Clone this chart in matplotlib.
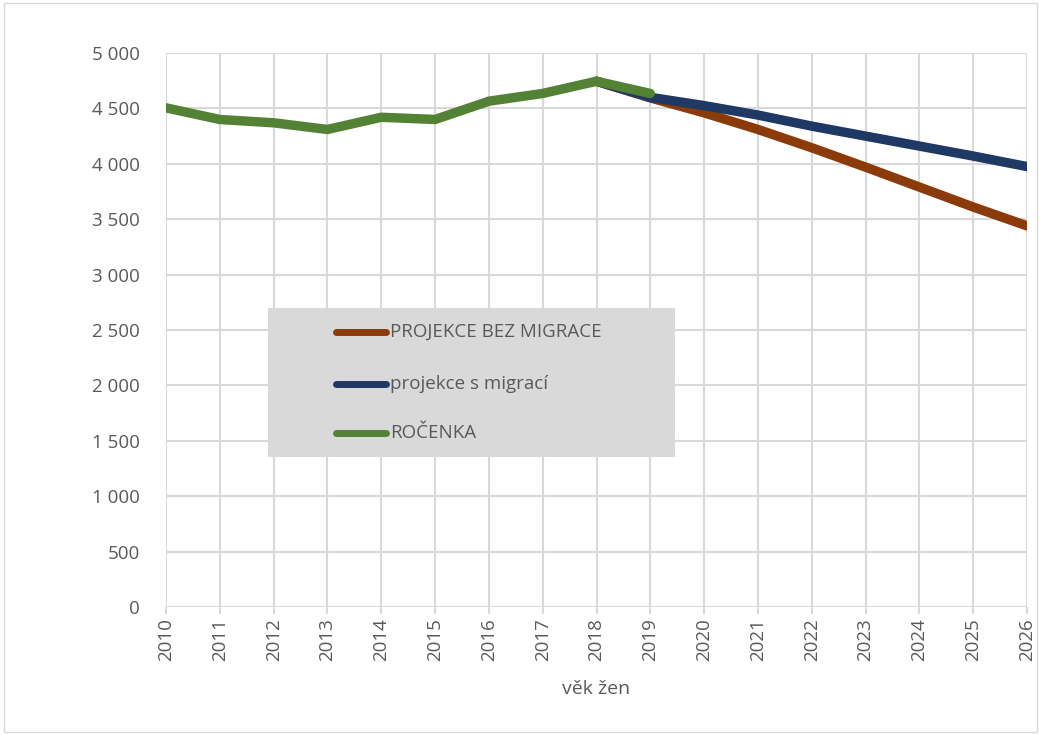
import matplotlib
matplotlib.use("Agg")
import matplotlib.pyplot as plt
from matplotlib.ticker import FuncFormatter
from matplotlib.patches import Rectangle
from matplotlib.lines import Line2D

years = list(range(2010, 2027))
rocenka_years = list(range(2010, 2020))
rocenka = [4505, 4400, 4370, 4310, 4420, 4400, 4565, 4635, 4745, 4635]
proj_years = list(range(2018, 2027))
bez_migrace = [4745, 4595, 4460, 4310, 4145, 3970, 3790, 3610, 3440]
s_migraci = [4745, 4600, 4525, 4440, 4340, 4250, 4160, 4070, 3975]
labels = ["PROJEKCE BEZ MIGRACE", "projekce s migrací", "ROČENKA"]
colors = ["#8B3A0A", "#1F3864", "#548235"]

W, H = 1041, 735
plt.rcParams['font.family'] = ['Open Sans', 'DejaVu Sans']
fig = plt.figure(figsize=(W/100, H/100), dpi=100)
fig.patches.append(Rectangle((0.004, 0.004), 0.992, 0.992, transform=fig.transFigure,
                             fill=False, edgecolor="#d9d9d9", linewidth=1))
ax = fig.add_axes([166/W, 1-607/H, (1027-166)/W, (607-53)/H])

ax.plot(proj_years, bez_migrace, color=colors[0], lw=6.8, solid_capstyle='round', zorder=3)
ax.plot(proj_years, s_migraci, color=colors[1], lw=6.8, solid_capstyle='round', zorder=4)
ax.plot(rocenka_years, rocenka, color=colors[2], lw=6.8, solid_capstyle='round', zorder=5)

ax.set_xlim(2010, 2026)
ax.set_ylim(0, 5000)
ax.set_xticks(years)
ax.set_xticklabels([str(y) for y in years], rotation=90)
ax.set_yticks(range(0, 5001, 500))
ax.yaxis.set_major_formatter(FuncFormatter(lambda v, p: f"{int(v):,}".replace(",", " ")))
ax.grid(True, color="#d9d9d9", linewidth=1.5)
ax.set_axisbelow(True)
for s in ax.spines.values():
    s.set_visible(False)
ax.tick_params(axis='x', colors="#595959", labelsize=13.5, length=5, width=1.5, color="#d9d9d9", pad=3)
ax.tick_params(axis='y', colors="#595959", labelsize=13.5, length=0, pad=19)
ax.set_xlabel("věk žen", color="#595959", fontsize=14, labelpad=14)

def fx(px):
    return px / W
def fy(py):
    return 1 - py / H

fig.patches.append(Rectangle((fx(268), fy(457)), fx(675) - fx(268), fy(308) - fy(457),
                             transform=fig.transFigure, facecolor="#d9d9d9",
                             edgecolor="none", zorder=10))
rows = [332, 384, 433]
for lab, col, ry in zip(labels, colors, rows):
    fig.lines.append(Line2D([fx(336), fx(386)], [fy(ry), fy(ry)], transform=fig.transFigure,
                            color=col, lw=5, solid_capstyle='round', zorder=11))
    fig.text(fx(390), fy(ry), lab, color="#595959", fontsize=13.5, va='center', ha='left',
             zorder=12)

fig.savefig("out.png", dpi=100)
